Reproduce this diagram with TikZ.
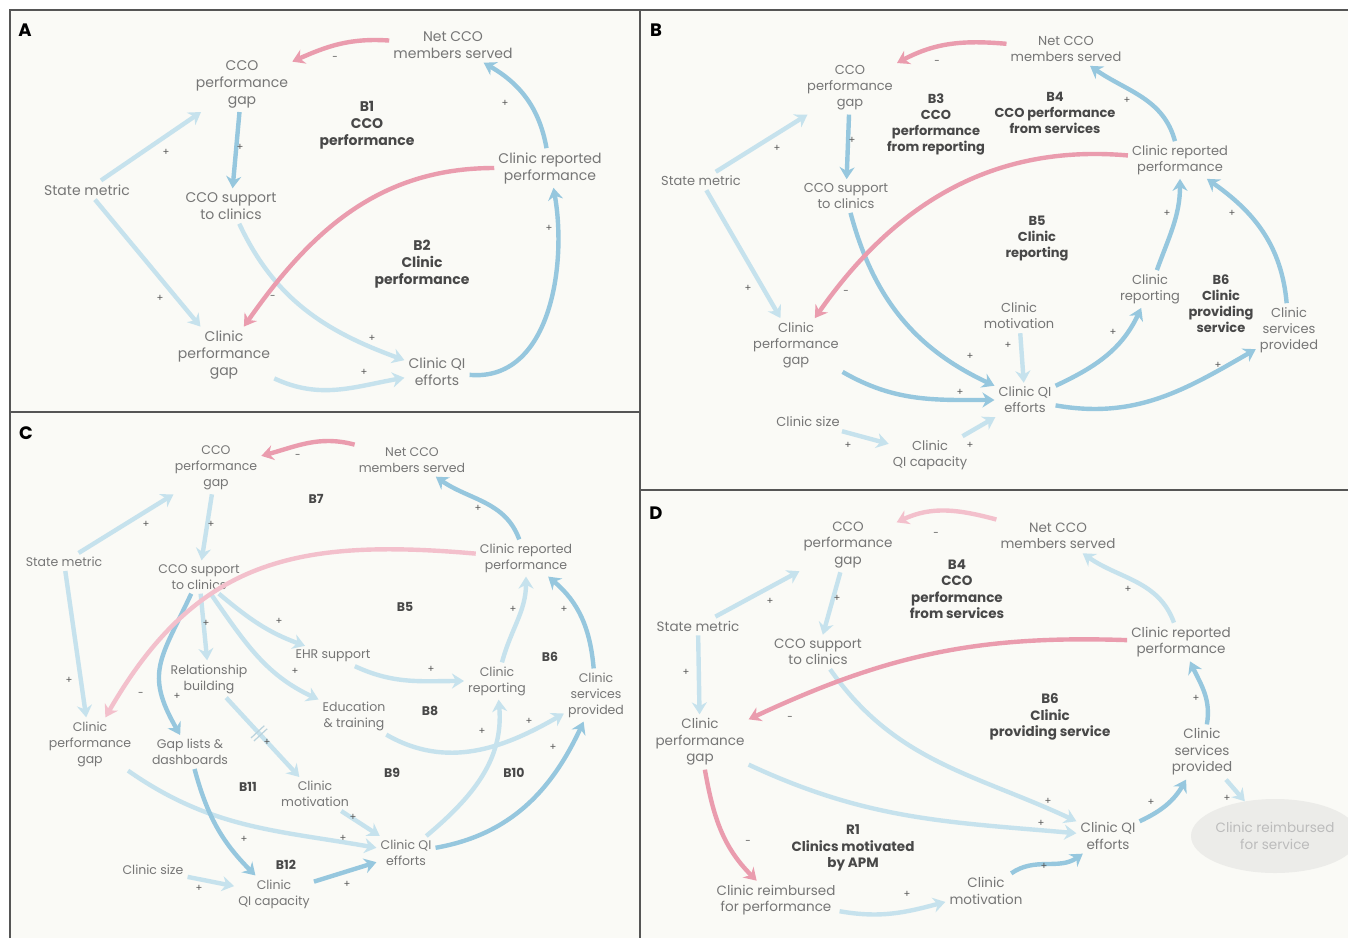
\documentclass[tikz,border=0pt]{standalone}
\usepackage{fontspec}
\setmainfont{Poppins}
\usepackage{xcolor}
\usetikzlibrary{arrows.meta,shapes.geometric}

\definecolor{bgcream}{RGB}{250,250,246}
\definecolor{framegray}{RGB}{85,85,85}
\definecolor{txtgray}{RGB}{118,118,118}
\definecolor{loopgray}{RGB}{72,72,72}
\definecolor{signgray}{RGB}{90,90,90}
\definecolor{bluelt}{RGB}{198,226,237}
\definecolor{bluedk}{RGB}{150,199,222}
\definecolor{pinkln}{RGB}{234,156,174}
\definecolor{pinklt}{RGB}{243,192,204}
\definecolor{ellgray}{RGB}{236,236,233}
\definecolor{fadetxt}{RGB}{188,188,188}

\newcommand{\lblsize}{\fontsize{14}{17}\selectfont}

\begin{document}
\begin{tikzpicture}[
            x=1pt, y=1pt,
            lbl/.style={text=txtgray, align=center, inner sep=4pt, font=\lblsize},
            loopname/.style={text=loopgray, align=center, inner sep=2pt, font=\lblsize\bfseries},
            panel/.style={text=black, inner sep=0pt, font=\fontsize{18}{18}\selectfont\bfseries},
            sgn/.style={text=signgray, inner sep=0pt, font=\fontsize{10}{10}\selectfont},
            delay/.style={text=bluelt!85!gray, inner sep=0pt},
            reimb/.style={ellipse, fill=ellgray, text=fadetxt, minimum width=150pt, minimum height=74pt, inner sep=0pt},
            lt/.style={draw=bluelt, line width=4.4pt, -{Stealth[length=12pt,width=15pt]}},
            dk/.style={draw=bluedk, line width=4.4pt, -{Stealth[length=12pt,width=15pt]}},
            neg/.style={draw=pinkln, line width=4.4pt, -{Stealth[length=12pt,width=15pt]}},
            neglt/.style={draw=pinklt, line width=4.4pt, -{Stealth[length=12pt,width=15pt]}}
        ]

        % Canvas and panel frames
        \useasboundingbox (0,0) rectangle (1348,-938);
        \fill[bgcream] (10,-10) rectangle (1348,-938);
        \draw[framegray, line width=2pt] (10,-938) -- (10,-10) -- (1348,-10);
        \draw[framegray, line width=2pt] (640,-10) -- (640,-938);
        \draw[framegray, line width=2pt] (10,-412) -- (640,-412);
        \draw[framegray, line width=2pt] (640,-490) -- (1348,-490);

        % ---------------- Panel A ----------------
        \renewcommand{\lblsize}{\fontsize{14}{17}\selectfont}
        \node[panel] (aTag) at (25,-30) {A};
        \node[lbl] (aNet) at (453,-45) {Net CCO\\members served};
        \node[lbl] (aCgap) at (242,-84) {CCO\\performance\\gap};
        \node[loopname] (aB1) at (367,-125) {B1\\CCO\\performance};
        \node[lbl] (aRep) at (550,-168) {Clinic reported\\performance};
        \node[lbl] (aState) at (87,-190) {State metric};
        \node[lbl] (aSup) at (231,-206) {CCO support\\to clinics};
        \node[loopname] (aB2) at (422,-264) {B2\\Clinic\\performance};
        \node[lbl] (aPgap) at (224,-355) {Clinic\\performance\\gap};
        \node[lbl] (aQI) at (437,-372) {Clinic QI\\efforts};

        % Edges
        \path[lt] (aState) -- (aCgap);
        \path[lt] (aState) -- (aPgap);
        \path[lt] (aSup) to[out=-65,in=160] (aQI);
        \path[lt] (aPgap) to[out=-25,in=190] (aQI);
        \path[dk] (aCgap) -- (aSup);
        \path[dk] (aRep) to[out=100,in=-30] (aNet);
        \path[dk] (aQI) to[out=-5,in=-80] (aRep);
        \path[neg] (aNet) to[out=176,in=24] (aCgap);
        \path[neg] (aRep) to[out=180,in=55] (aPgap);

        % Polarities
        \node[sgn] (aS1) at (335,-58) {-};
        \node[sgn] (aS2) at (505,-103) {+};
        \node[sgn] (aS3) at (166,-152) {+};
        \node[sgn] (aS4) at (240,-147) {+};
        \node[sgn] (aS5) at (160,-298) {+};
        \node[sgn] (aS6) at (372,-338) {+};
        \node[sgn] (aS7) at (273,-297) {-};
        \node[sgn] (aS8) at (364,-372) {+};
        \node[sgn] (aS9) at (549,-228) {+};

        % ---------------- Panel B ----------------
        \renewcommand{\lblsize}{\fontsize{13}{16}\selectfont}
        \node[panel] (bTag) at (656,-30) {B};
        \node[lbl] (bNet) at (1066,-49) {Net CCO\\members served};
        \node[lbl] (bCgap) at (850,-88) {CCO\\performance\\gap};
        \node[loopname] (bB3) at (936,-124) {B3\\CCO\\performance\\from reporting};
        \node[loopname] (bB4) at (1055,-113) {B4\\CCO performance\\from services};
        \node[lbl] (bRep) at (1180,-160) {Clinic reported\\performance};
        \node[lbl] (bState) at (701,-181) {State metric};
        \node[lbl] (bSup) at (846,-196) {CCO support\\to clinics};
        \node[loopname] (bB5) at (1037,-239) {B5\\Clinic\\reporting};
        \node[lbl] (bCrep) at (1150,-289) {Clinic\\reporting};
        \node[loopname] (bB6) at (1221,-304) {B6\\Clinic\\providing\\service};
        \node[lbl] (bServ) at (1289,-330) {Clinic\\services\\provided};
        \node[lbl] (bMot) at (1019,-316) {Clinic\\motivation};
        \node[lbl] (bPgap) at (796,-345) {Clinic\\performance\\gap};
        \node[lbl] (bSize) at (808,-422) {Clinic size};
        \node[lbl] (bQI) at (1025,-400) {Clinic QI\\efforts};
        \node[lbl] (bCap) at (930,-455) {Clinic\\QI capacity};

        % Edges
        \path[lt] (bState) -- (bCgap);
        \path[lt] (bState) -- (bPgap);
        \path[lt] (bMot) -- (bQI);
        \path[lt] (bSize) -- (bCap);
        \path[lt] (bCap) -- (bQI);
        \path[dk] (bCgap) -- (bSup);
        \path[dk] (bRep) to[out=105,in=-35] (bNet);
        \path[dk] (bSup) to[out=-75,in=155] (bQI);
        \path[dk] (bPgap) to[out=-30,in=180] (bQI);
        \path[dk] (bQI) to[out=25,in=-115] (bCrep);
        \path[dk] (bCrep) to[out=70,in=-90] (bRep);
        \path[dk] (bQI) to[out=-10,in=210] (bServ);
        \path[dk] (bServ) to[out=95,in=-35] (bRep);
        \path[neg] (bNet) to[out=175,in=28] (bCgap);
        \path[neg] (bRep) to[out=175,in=55] (bPgap);

        % Polarities
        \node[sgn] (bS1) at (937,-62) {-};
        \node[sgn] (bS2) at (1127,-100) {+};
        \node[sgn] (bS3) at (777,-148) {+};
        \node[sgn] (bS4) at (852,-140) {+};
        \node[sgn] (bS5) at (748,-288) {+};
        \node[sgn] (bS6) at (846,-292) {-};
        \node[sgn] (bS7) at (970,-356) {+};
        \node[sgn] (bS8) at (960,-392) {+};
        \node[sgn] (bS9) at (1008,-345) {+};
        \node[sgn] (bS10) at (848,-445) {+};
        \node[sgn] (bS11) at (970,-445) {+};
        \node[sgn] (bS12) at (1113,-332) {+};
        \node[sgn] (bS13) at (1167,-213) {+};
        \node[sgn] (bS14) at (1232,-213) {+};
        \node[sgn] (bS15) at (1218,-365) {+};

        % ---------------- Panel C ----------------
        \renewcommand{\lblsize}{\fontsize{12.5}{16}\selectfont}
        \node[panel] (cTag) at (26,-433) {C};
        \node[lbl] (cNet) at (412,-460) {Net CCO\\members served};
        \node[lbl] (cCgap) at (216,-468) {CCO\\performance\\gap};
        \node[loopname] (cB7) at (316,-499) {B7};
        \node[lbl] (cState) at (64,-562) {State metric};
        \node[lbl] (cSup) at (199,-577) {CCO support\\to clinics};
        \node[lbl] (cRep) at (526,-558) {Clinic reported\\performance};
        \node[loopname] (cB5) at (405,-607) {B5};
        \node[lbl] (cEhr) at (333,-656) {EHR support};
        \node[lbl] (cRel) at (209,-679) {Relationship\\building};
        \node[lbl] (cCrep) at (497,-681) {Clinic\\reporting};
        \node[loopname] (cB6) at (550,-657) {B6};
        \node[lbl] (cServ) at (596,-695) {Clinic\\services\\provided};
        \node[lbl] (cEdu) at (354,-716) {Education\\\& training};
        \node[loopname] (cB8) at (430,-711) {B8};
        \node[lbl] (cPgap) at (90,-744) {Clinic\\performance\\gap};
        \node[lbl] (cGap) at (190,-752) {Gap lists \&\\dashboards};
        \node[loopname] (cB9) at (392,-773) {B9};
        \node[loopname] (cB10) at (514,-773) {B10};
        \node[loopname] (cB11) at (248,-787) {B11};
        \node[lbl] (cMot) at (315,-794) {Clinic\\motivation};
        \node[lbl] (cQI) at (406,-853) {Clinic QI\\efforts};
        \node[loopname] (cB12) at (286,-865) {B12};
        \node[lbl] (cSize) at (153,-870) {Clinic size};
        \node[lbl] (cCap) at (274,-894) {Clinic\\QI capacity};

        % Edges
        \path[lt] (cState) -- (cCgap);
        \path[lt] (cCgap) -- (cSup);
        \path[lt] (cState) -- (cPgap);
        \path[lt] (cSup) -- (cRel);
        \path[lt] (cSup) to[out=-40,in=160] (cEhr);
        \path[lt] (cSup) to[out=-55,in=155] (cEdu);
        \path[lt] (cRel) -- node[delay, sloped, pos=.45] (cLag) {\rule{1.2pt}{18pt}\hspace{3pt}\rule{1.2pt}{18pt}} (cMot);
        \path[lt] (cEhr) to[out=-25,in=180] (cCrep);
        \path[lt] (cEdu) to[out=-30,in=210] (cServ);
        \path[lt] (cQI) to[out=40,in=-85] (cCrep);
        \path[lt] (cCrep) to[out=75,in=-90] (cRep);
        \path[lt] (cPgap) to[out=-35,in=170] (cQI);
        \path[lt] (cMot) -- (cQI);
        \path[lt] (cSize) -- (cCap);
        \path[dk] (cRep) to[out=110,in=-35] (cNet);
        \path[dk] (cSup) to[out=-115,in=120,looseness=1.3] (cGap);
        \path[dk] (cQI) to[out=10,in=-115] (cServ);
        \path[dk] (cServ) to[out=95,in=-40] (cRep);
        \path[dk] (cGap) to[out=-75,in=135] (cCap);
        \path[dk] (cCap) -- (cQI);
        \path[neg] (cNet) to[out=165,in=15] (cCgap);
        \path[neglt] (cRep) to[out=175,in=60,looseness=1.15] (cPgap);

        % Polarities
        \node[sgn] (cS1) at (298,-456) {-};
        \node[sgn] (cS2) at (478,-508) {+};
        \node[sgn] (cS3) at (146,-524) {+};
        \node[sgn] (cS4) at (211,-524) {+};
        \node[sgn] (cS5) at (69,-680) {+};
        \node[sgn] (cS6) at (141,-694) {-};
        \node[sgn] (cS7) at (206,-623) {+};
        \node[sgn] (cS8) at (279,-621) {+};
        \node[sgn] (cS9) at (177,-696) {+};
        \node[sgn] (cS10) at (295,-671) {+};
        \node[sgn] (cS11) at (431,-669) {+};
        \node[sgn] (cS12) at (267,-742) {+};
        \node[sgn] (cS13) at (482,-731) {+};
        \node[sgn] (cS14) at (529,-721) {+};
        \node[sgn] (cS15) at (553,-747) {+};
        \node[sgn] (cS16) at (513,-609) {+};
        \node[sgn] (cS17) at (564,-609) {+};
        \node[sgn] (cS18) at (353,-817) {+};
        \node[sgn] (cS19) at (343,-838) {+};
        \node[sgn] (cS20) at (244,-839) {+};
        \node[sgn] (cS21) at (199,-888) {+};
        \node[sgn] (cS22) at (347,-884) {+};

        % ---------------- Panel D ----------------
        \renewcommand{\lblsize}{\fontsize{13.5}{16.5}\selectfont}
        \node[panel] (dTag) at (656,-513) {D};
        \node[lbl] (dNet) at (1058,-536) {Net CCO\\members served};
        \node[lbl] (dCgap) at (848,-545) {CCO\\performance\\gap};
        \node[loopname] (dB4) at (957,-589) {B4\\CCO\\performance\\from services};
        \node[lbl] (dState) at (698,-626) {State metric};
        \node[lbl] (dSup) at (818,-652) {CCO support\\to clinics};
        \node[lbl] (dRep) at (1181,-642) {Clinic reported\\performance};
        \node[loopname] (dB6) at (1050,-717) {B6\\Clinic\\providing service};
        \node[lbl] (dPgap) at (700,-742) {Clinic\\performance\\gap};
        \node[lbl] (dServ) at (1202,-752) {Clinic\\services\\provided};
        \node[lbl, reimb] (dSvc) at (1275,-836) {Clinic reimbursed\\for service};
        \node[lbl] (dQI) at (1108,-836) {Clinic QI\\efforts};
        \node[loopname] (dR1) at (853,-848) {R1\\Clinics motivated\\by APM};
        \node[lbl] (dPerf) at (776,-900) {Clinic reimbursed\\for performance};
        \node[lbl] (dMot) at (986,-891) {Clinic\\motivation};

        % Edges
        \path[lt] (dRep) to[out=110,in=-35] (dNet);
        \path[lt] (dState) -- (dCgap);
        \path[lt] (dCgap) -- (dSup);
        \path[lt] (dState) -- (dPgap);
        \path[lt] (dSup) to[out=-55,in=155] (dQI);
        \path[lt] (dPgap) to[out=-25,in=175] (dQI);
        \path[lt] (dPerf) to[out=-10,in=195] (dMot);
        \path[lt] (dServ) -- (dSvc);
        \path[dk] (dMot) to[out=35,in=215] (dQI);
        \path[dk] (dQI) to[out=25,in=-120] (dServ);
        \path[dk] (dServ) to[out=80,in=-65] (dRep);
        \path[neglt] (dNet) to[out=165,in=25] (dCgap);
        \path[neg] (dRep) to[out=178,in=25] (dPgap);
        \path[neg] (dPgap) to[out=-80,in=135] (dPerf);

        % Polarities
        \node[sgn] (dS1) at (936,-534) {-};
        \node[sgn] (dS2) at (1128,-589) {+};
        \node[sgn] (dS3) at (770,-601) {+};
        \node[sgn] (dS4) at (837,-598) {+};
        \node[sgn] (dS5) at (686,-672) {+};
        \node[sgn] (dS6) at (790,-718) {-};
        \node[sgn] (dS7) at (1048,-801) {+};
        \node[sgn] (dS8) at (1041,-823) {+};
        \node[sgn] (dS9) at (748,-842) {-};
        \node[sgn] (dS10) at (907,-894) {+};
        \node[sgn] (dS11) at (1044,-866) {+};
        \node[sgn] (dS12) at (1151,-802) {+};
        \node[sgn] (dS13) at (1196,-698) {+};
        \node[sgn] (dS14) at (1227,-798) {+};

    \end{tikzpicture}
\end{document}
